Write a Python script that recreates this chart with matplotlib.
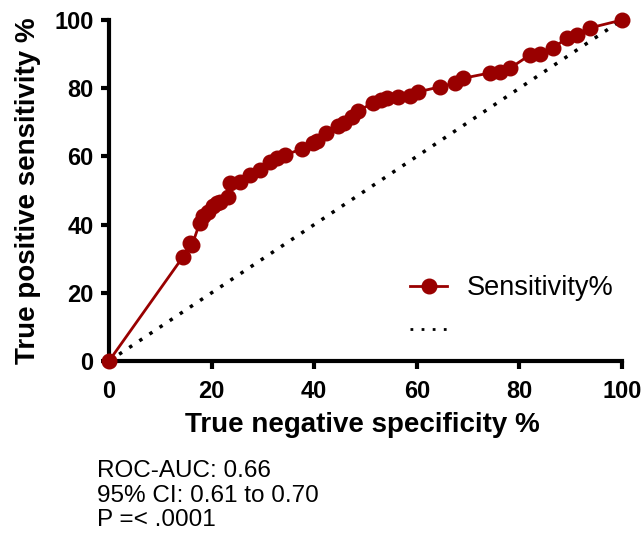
import matplotlib.pyplot as plt
from matplotlib.lines import Line2D

plt.rcParams['font.family'] = ['Liberation Sans', 'DejaVu Sans']

# ROC points (specificity %, sensitivity %)
specificity = [0, 14.4, 15.8, 16.2, 17.7, 18.4, 19.3, 20.3, 21.0, 21.6, 23.2,
               23.6, 25.5, 27.5, 29.4, 31.4, 32.7, 34.3, 37.6, 39.8, 40.5,
               42.3, 44.6, 45.8, 47.4, 48.5, 51.5, 53.0, 54.2, 56.4, 58.7,
               60.2, 64.5, 67.4, 69.0, 74.3, 76.2, 78.2, 82.0, 84.0, 86.5,
               89.3, 91.2, 93.8, 100]
sensitivity = [0, 30.5, 34.6, 34.0, 40.6, 42.4, 43.7, 45.4, 46.3, 46.5, 48.1,
               52.2, 52.5, 54.5, 56.0, 58.4, 59.5, 60.4, 62.2, 63.9, 64.6,
               66.9, 68.9, 69.8, 71.6, 73.3, 75.7, 76.5, 77.1, 77.4, 77.6,
               78.9, 80.4, 81.5, 82.9, 84.5, 84.8, 85.9, 89.7, 89.9, 91.8,
               94.7, 95.6, 97.7, 100]
chance = [0, 100]
ticks = [0, 20, 40, 60, 80, 100]
stats = ["ROC-AUC: 0.66", "95% CI: 0.61 to 0.70", "P =< .0001"]

red = '#990000'
W, H = 643, 539

fig = plt.figure(figsize=(W / 100, H / 100), dpi=100)
ax = fig.add_axes([109 / W, 1 - 361 / H, 513 / W, 341 / H])

ax.plot(specificity, sensitivity, color=red, lw=2, marker='o', ms=10.5,
        mec=red, mfc=red, clip_on=False, zorder=3)
ax.plot(chance, chance, color='black', lw=2.5, ls=(0, (1, 2.5)), zorder=2)

ax.set_xlim(0, 100)
ax.set_ylim(0, 100)
ax.set_xticks(ticks)
ax.set_yticks(ticks)
for s in ['top', 'right']:
    ax.spines[s].set_visible(False)
for s in ['left', 'bottom']:
    ax.spines[s].set_linewidth(3)
ax.tick_params(width=3, length=6, labelsize=17)
ax.tick_params(axis='x', pad=8)
ax.tick_params(axis='y', pad=5)
for lab in ax.get_xticklabels() + ax.get_yticklabels():
    lab.set_fontweight('bold')

ax.set_xlabel('True negative specificity %', fontsize=20, fontweight='bold',
              va='baseline')
ax.xaxis.set_label_coords(0.494, (361 - 432) / 341)
ax.set_ylabel('True positive sensitivity %', fontsize=20, fontweight='bold',
              va='baseline')
ax.yaxis.set_label_coords((35 - 109) / 513, 0.5)

handles = [Line2D([], [], color=red, lw=2, marker='o', ms=10.5),
           Line2D([], [], color='black', lw=2, ls=(0, (1, 3)))]
ax.legend(handles, ['Sensitivity%', ''], loc='upper left',
          bbox_to_anchor=(410 / W, 1 - 275 / H),
          bbox_transform=fig.transFigure, frameon=False, fontsize=19.5,
          borderpad=0, borderaxespad=0, handlelength=1.37,
          handletextpad=0.74, labelspacing=0.65)

for i, line in enumerate(stats):
    fig.text(97 / W, 1 - (477 + 24.5 * i) / H, line, fontsize=17.5,
             ha='left', va='baseline')

fig.savefig('out.png', dpi=100)
